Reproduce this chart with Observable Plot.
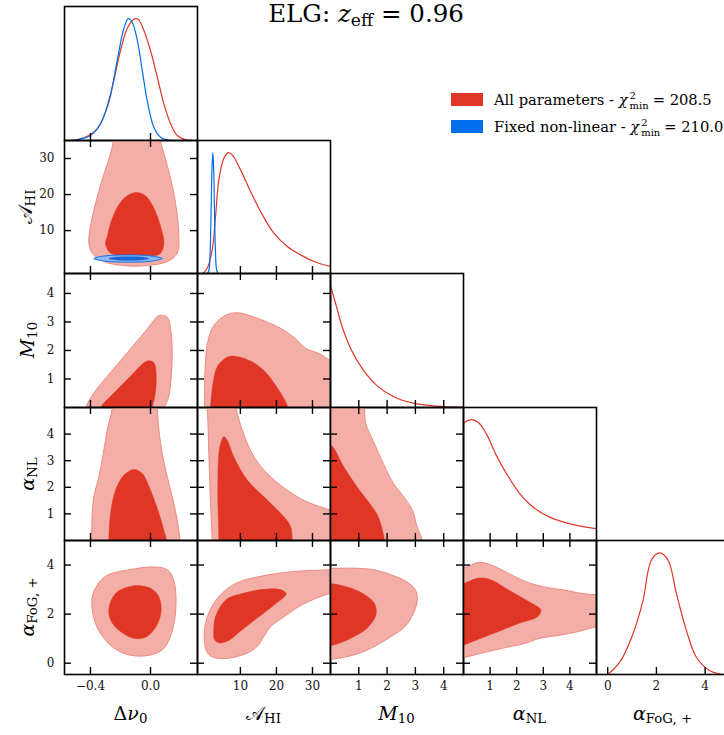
<!DOCTYPE html>
<html><head><meta charset="utf-8">
<script src="https://cdn.jsdelivr.net/npm/d3@7"></script>
<script src="https://cdn.jsdelivr.net/npm/@observablehq/plot@0.6"></script>
<style>
body{margin:0;background:#fff}
#fig{position:relative;width:724px;height:735px;overflow:hidden;font-family:"DejaVu Serif",serif;color:#000;background:#fff}
#fig svg text{font-family:"DejaVu Serif",serif !important}
.lbl{position:absolute;white-space:nowrap;font-size:19px;line-height:1}
sub{font-size:0.7em;vertical-align:-0.25em;line-height:0}
.ttl{position:absolute;white-space:nowrap;font-size:24.5px;line-height:1.17}
.leg{position:absolute;white-space:nowrap;font-size:14.7px;line-height:1}
.sw{position:absolute;width:32px;height:13px}
.ss{display:inline-block;vertical-align:-0.42em;font-size:0.68em;line-height:1;text-align:left;margin-left:2px;margin-right:4px}
.ss span{display:block}
</style></head><body><div id="fig"></div>
<script>
// ---------- tick values ----------
const ticksDnu = [-0.4, 0.0];
const ticksAhi = [10, 20, 30];
const ticksM10 = [1, 2, 3, 4];
const ticksNL = [1, 2, 3, 4];
const ticksFoG = [0, 2, 4];

// ---------- axis domains ----------
const domDnu = [-0.573, 0.313];
const domAhi = [-1.9, 35];
const domM10 = [0, 4.7];
const domNL = [0, 5];
const domFoG = [-0.46, 5.0];
const dom1D = [0, 1.1];

// ---------- 1D marginals [x, density] ----------
const dnuAll = [[-0.573,0],[-0.533,0],[-0.444,0.022],[-0.355,0.096],[-0.288,0.273],[-0.244,0.493],[-0.2,0.739],[-0.155,0.92],[-0.111,0.995],[-0.095,1.0],[-0.078,0.99],[-0.044,0.903],[0.0,0.739],[0.045,0.52],[0.089,0.30],[0.134,0.137],[0.178,0.041],[0.234,0.006],[0.289,0],[0.313,0]];
const dnuFixed = [[-0.573,0],[-0.52,0],[-0.488,0.006],[-0.4,0.041],[-0.333,0.137],[-0.266,0.383],[-0.222,0.657],[-0.178,0.917],[-0.148,1.0],[-0.122,0.971],[-0.088,0.821],[-0.055,0.575],[-0.022,0.328],[0.022,0.109],[0.067,0.027],[0.134,0],[0.313,0]];
const ahiAll = [[-1.9,0],[-0.5,0],[0.79,0.044],[2.18,0.196],[3.1,0.471],[4.02,0.774],[5.41,0.953],[6.63,1.0],[7.74,0.981],[10.04,0.857],[12.82,0.678],[15.6,0.513],[19.29,0.333],[23.02,0.223],[26.71,0.154],[30.41,0.099],[35.04,0.058]];
const ahiFixed = [[0.9,0],[1.3,0.03],[1.6,0.17],[1.9,0.55],[2.1,0.85],[2.35,1.0],[2.6,0.85],[2.8,0.55],[3.1,0.17],[3.4,0.03],[3.8,0]];
const m10All = [[0,1.0],[0.21,0.829],[0.45,0.636],[0.74,0.471],[1.16,0.306],[1.63,0.182],[2.22,0.091],[2.92,0.036],[3.75,0.011],[4.7,0.002]];
const nlAll = [[0,0.96],[0.05,0.978],[0.30,1.0],[0.55,0.978],[0.86,0.882],[1.24,0.702],[1.62,0.551],[2.12,0.386],[2.62,0.275],[3.24,0.193],[4.0,0.138],[5.0,0.097]];
const fogAll = [[0,0],[0.495,0.101],[1.04,0.335],[1.45,0.609],[1.79,0.938],[2.13,0.998],[2.48,0.938],[2.82,0.664],[3.23,0.362],[3.64,0.142],[4.18,0.033],[4.73,0],[5.0,0]];

// ---------- 2D contours (68% inner, 95% outer) ----------
const dnuAhiOut = [[-0.248,34.8],[-0.266,31.5],[-0.322,24.1],[-0.366,17.6],[-0.400,11.2],[-0.411,6.5],[-0.388,3.7],[-0.311,1.4],[-0.155,0.2],[-0.022,0.3],[0.112,1.4],[0.178,3.7],[0.189,8.3],[0.167,17.6],[0.134,24.4],[0.089,31.5],[0.067,34.8],[0.06,40],[-0.24,40]];
const dnuAhiIn = [[-0.288,8.38],[-0.266,12.07],[-0.211,17.18],[-0.155,19.68],[-0.093,20.6],[-0.033,19.68],[0.022,16.24],[0.067,11.16],[0.089,6.52],[0.067,3.74],[0.0,2.82],[-0.111,2.63],[-0.222,3.02],[-0.278,4.21],[-0.300,6.5]];
const dnuAhiFixedOut = [[0.078,2.25],[0.011,2.95],[-0.150,3.25],[-0.311,2.95],[-0.378,2.25],[-0.311,1.55],[-0.150,1.25],[0.011,1.55]];
const dnuAhiFixedIn = [[-0.011,2.27],[-0.050,2.6],[-0.144,2.75],[-0.238,2.6],[-0.277,2.27],[-0.238,1.94],[-0.144,1.8],[-0.050,1.94]];

const dnuM10Out = [[-0.45,-0.3],[-0.433,0],[-0.378,0.505],[-0.288,1.095],[-0.155,1.92],[-0.022,2.75],[0.056,3.22],[0.112,3.16],[0.134,2.75],[0.145,1.92],[0.138,1.10],[0.122,0.39],[0.094,0],[0.09,-0.3]];
const dnuM10In = [[-0.35,-0.3],[-0.333,0],[-0.244,0.505],[-0.133,1.10],[-0.022,1.63],[0.022,1.57],[0.038,1.10],[0.029,0.39],[0.011,0],[0.01,-0.3]];
const ahiM10Out = [[0.0,-0.3],[0.04,0],[0.18,1.31],[0.88,2.26],[2.54,2.86],[6.16,3.25],[9.49,3.32],[13.66,3.18],[17.54,2.99],[21.43,2.76],[25.04,2.44],[28.1,2.08],[32.27,1.87],[35.04,1.63],[38,1.45],[40,1.4],[40,-0.3]];
const ahiM10In = [[1.6,-0.3],[1.71,0],[2.41,0.85],[3.66,1.45],[6.43,1.77],[8.38,1.80],[12.82,1.63],[16.43,1.31],[19.77,0.78],[23.24,0],[23.5,-0.3]];

const dnuNLOut = [[-0.255,5.3],[-0.255,5.0],[-0.288,4.15],[-0.315,3.27],[-0.344,2.39],[-0.378,1.64],[-0.388,1.02],[-0.393,0],[-0.393,-0.3],[0.196,-0.3],[0.196,0],[0.174,0.89],[0.145,1.64],[0.112,2.39],[0.078,3.27],[0.056,4.15],[0.045,5.0],[0.045,5.3]];
const dnuNLIn = [[-0.278,-0.3],[-0.278,0],[-0.266,1.02],[-0.233,1.89],[-0.178,2.45],[-0.111,2.67],[-0.055,2.52],[0.0,1.89],[0.056,1.02],[0.089,0.39],[0.107,0],[0.107,-0.3]];
const ahiNLOut = [[0.5,5.3],[0.79,5.0],[1.24,3.27],[1.71,1.39],[2.18,0],[2.2,-0.3],[40,-0.3],[40,0.9],[37.82,1.02],[35.04,1.14],[28.57,1.45],[23.02,1.89],[17.46,2.52],[13.74,3.15],[10.52,4.15],[8.66,5.0],[8.0,5.3]];
const ahiNLIn = [[4.0,-0.3],[4.02,0],[3.74,2.02],[4.29,3.52],[5.41,3.90],[6.35,3.77],[8.18,3.15],[11.91,2.27],[17.46,1.52],[22.07,0.89],[23.93,0.52],[24.41,0],[24.5,-0.3]];
const m10NLOut = [[-0.3,5.3],[1.18,5.3],[1.20,5.0],[1.25,4.40],[1.55,3.65],[1.87,2.89],[2.23,2.14],[2.63,1.58],[2.90,1.13],[3.06,0.52],[3.25,0],[3.27,-0.3],[-0.3,-0.3]];
const m10NLIn = [[-0.3,3.7],[0.035,3.57],[0.47,2.77],[0.94,2.01],[1.47,1.27],[1.70,0.86],[1.91,0],[1.93,-0.3],[-0.3,-0.3]];

const dnuFoGOut = [[-0.301,3.54],[-0.140,3.81],[0.020,3.92],[0.112,3.81],[0.154,3.40],[0.170,2.44],[0.146,1.35],[0.089,0.60],[-0.003,0.33],[-0.140,0.33],[-0.255,0.67],[-0.347,1.35],[-0.388,2.17],[-0.382,2.85]];
const dnuFoGIn = [[-0.278,2.17],[-0.232,2.85],[-0.118,3.15],[-0.003,3.06],[0.054,2.72],[0.071,2.17],[0.043,1.56],[-0.026,1.08],[-0.106,1.01],[-0.198,1.28],[-0.260,1.69]];
const ahiFoGOut = [[0.21,0.67],[0.02,1.35],[1.18,2.03],[4.04,2.72],[8.82,3.26],[15.52,3.54],[25.1,3.74],[35.13,3.81],[40,3.85],[40,2.9],[35.13,2.85],[26.99,2.37],[22.21,1.90],[18.38,1.49],[16.49,1.08],[14.57,0.67],[11.71,0.40],[5.96,0.19],[2.13,0.26],[0.68,0.46]];
const ahiFoGIn = [[2.60,1.21],[3.1,1.90],[5.96,2.58],[10.74,2.85],[17.43,3.02],[21.27,2.99],[22.71,2.83],[19.35,2.37],[14.57,1.83],[9.79,1.28],[6.91,0.94],[4.04,0.83],[2.8,0.98]];
const m10FoGOut = [[-0.3,3.9],[0.02,3.87],[0.88,3.87],[1.53,3.81],[2.17,3.59],[2.65,3.35],[2.99,3.01],[3.07,2.60],[2.93,2.03],[2.63,1.49],[2.12,1.07],[1.27,0.52],[0.57,0.26],[0.02,0.15],[-0.3,0.05]];
const m10FoGIn = [[-0.3,3.3],[0.02,3.25],[0.56,3.12],[1.10,2.87],[1.55,2.44],[1.61,1.99],[1.34,1.48],[0.92,1.14],[0.44,0.87],[0.02,0.71],[-0.3,0.6]];
const nlFoGOut = [[-0.3,3.75],[0.02,3.87],[0.58,4.11],[1.03,4.01],[1.68,3.67],[2.33,3.33],[2.97,3.12],[3.75,2.99],[4.53,2.83],[5.05,2.79],[5.4,2.78],[5.4,1.5],[5.05,1.49],[4.27,1.28],[3.62,1.14],[2.84,1.01],[2.33,0.81],[1.42,0.60],[0.64,0.40],[0.02,0.23],[-0.3,0.15]];
const nlFoGIn = [[-0.3,3.2],[0.02,3.26],[0.58,3.47],[1.03,3.40],[1.68,2.99],[2.45,2.51],[2.91,2.17],[2.78,1.89],[2.07,1.62],[1.29,1.28],[0.64,1.01],[0.02,0.74],[-0.3,0.6]];

// ---------- labels ----------
const colLabels = ["Δ<i>ν</i><sub>0</sub>", "<span class='cal'>𝒜</span><sub>HI</sub>", "<i>M</i><sub>10</sub>", "<i>α</i><sub>NL</sub>", "<i>α</i><sub>FoG, +</sub>"];
const legendItems = [
  {name: "All parameters", chi: "208.5"},
  {name: "Fixed non-linear", chi: "210.0"}
];

// ---------- style ----------
const RED = "#e03626", RED_L = "#f2aea7", RED_E = "#ea8479";
const BLUE = "#006fed", BLUE_L = "#8db6f0", BLUE_D = "#1b63d8";
const SERIF = "DejaVu Serif";

const colX = [64, 197, 330, 463, 596, 729];
const rowY = [6, 140, 273, 407, 540, 674];
const fig = document.getElementById("fig");
const XY = {x: d => d[0], y: d => d[1]};
const fmtDnu = d => (d < 0 ? "\u2212" : "") + Math.abs(d).toFixed(1);
const fmtInt = d => String(d);

function contour(outer, inner, cO = RED_L, cE = RED_E, cI = RED) {
  return [
    Plot.line(outer, {...XY, curve: "catmull-rom-closed", fill: cO, stroke: cE, strokeWidth: 0.9, clip: true}),
    Plot.line(inner, {...XY, curve: "catmull-rom-closed", fill: cI, stroke: cI, strokeWidth: 0.5, clip: true})
  ];
}
function curve1D(data, color) {
  return Plot.line(data, {...XY, curve: "catmull-rom", stroke: color, strokeWidth: 1.2, clip: true});
}

function panel(c, r, o) {
  const W = colX[c + 1] - colX[c], H = rowY[r + 1] - rowY[r];
  const ml = o.yLab ? 44 : 0, mb = o.xLab ? 26 : 0;
  const marks = [...o.marks];
  const tk = {stroke: "#000", strokeWidth: 1.4};
  marks.push(Plot.ruleX(o.xt, {...tk, insetTop: H - 7}));
  if (!o.oneD) {
    marks.push(Plot.ruleX(o.xt, {...tk, insetBottom: H - 7}));
    marks.push(Plot.ruleY(o.yt, {...tk, insetRight: W - 7}));
    marks.push(Plot.ruleY(o.yt, {...tk, insetLeft: W - 7}));
  }
  marks.push(Plot.frame({stroke: "#000", strokeWidth: 1.6}));
  const txt = {fontFamily: SERIF, fontSize: 12, fill: "#111"};
  if (o.xLab) marks.push(Plot.axisX({ticks: o.xt, anchor: "bottom", tickSize: 0, tickPadding: 7, tickFormat: o.xf || fmtInt, label: null, ...txt}));
  if (o.yLab) marks.push(Plot.axisY({ticks: o.yt, anchor: "left", tickSize: 0, tickPadding: 10, tickFormat: o.yf || fmtInt, label: null, ...txt}));
  const p = Plot.plot({
    width: W + ml, height: H + mb,
    marginLeft: ml, marginRight: 0, marginTop: 0, marginBottom: mb,
    x: {domain: o.xd, axis: null},
    y: {domain: o.yd, axis: null},
    style: {background: "transparent", overflow: "visible", fontFamily: SERIF, fontSize: "12px", color: "#000"},
    marks
  });
  p.style.position = "absolute";
  p.style.left = (colX[c] - ml) + "px";
  p.style.top = rowY[r] + "px";
  p.style.maxWidth = "none";
  fig.appendChild(p);
}

// Row 0
panel(0, 0, {oneD: true, xd: domDnu, yd: dom1D, xt: ticksDnu, marks: [curve1D(dnuAll, RED), curve1D(dnuFixed, BLUE)]});
// Row 1
panel(0, 1, {xd: domDnu, yd: domAhi, xt: ticksDnu, yt: ticksAhi, yLab: true,
  marks: [...contour(dnuAhiOut, dnuAhiIn), ...contour(dnuAhiFixedOut, dnuAhiFixedIn, BLUE_L, BLUE, BLUE_D)]});
panel(1, 1, {oneD: true, xd: domAhi, yd: dom1D, xt: ticksAhi, marks: [curve1D(ahiAll, RED), curve1D(ahiFixed, BLUE)]});
// Row 2
panel(0, 2, {xd: domDnu, yd: domM10, xt: ticksDnu, yt: ticksM10, yLab: true, marks: contour(dnuM10Out, dnuM10In)});
panel(1, 2, {xd: domAhi, yd: domM10, xt: ticksAhi, yt: ticksM10, marks: contour(ahiM10Out, ahiM10In)});
panel(2, 2, {oneD: true, xd: domM10, yd: dom1D, xt: ticksM10, marks: [curve1D(m10All, RED)]});
// Row 3
panel(0, 3, {xd: domDnu, yd: domNL, xt: ticksDnu, yt: ticksNL, yLab: true, marks: contour(dnuNLOut, dnuNLIn)});
panel(1, 3, {xd: domAhi, yd: domNL, xt: ticksAhi, yt: ticksNL, marks: contour(ahiNLOut, ahiNLIn)});
panel(2, 3, {xd: domM10, yd: domNL, xt: ticksM10, yt: ticksNL, marks: contour(m10NLOut, m10NLIn)});
panel(3, 3, {oneD: true, xd: domNL, yd: dom1D, xt: ticksNL, marks: [curve1D(nlAll, RED)]});
// Row 4
panel(0, 4, {xd: domDnu, yd: domFoG, xt: ticksDnu, yt: ticksFoG, yLab: true, xLab: true, xf: fmtDnu, marks: contour(dnuFoGOut, dnuFoGIn)});
panel(1, 4, {xd: domAhi, yd: domFoG, xt: ticksAhi, yt: ticksFoG, xLab: true, marks: contour(ahiFoGOut, ahiFoGIn)});
panel(2, 4, {xd: domM10, yd: domFoG, xt: ticksM10, yt: ticksFoG, xLab: true, marks: contour(m10FoGOut, m10FoGIn)});
panel(3, 4, {xd: domNL, yd: domFoG, xt: ticksNL, yt: ticksFoG, xLab: true, marks: contour(nlFoGOut, nlFoGIn)});
panel(4, 4, {oneD: true, xd: domFoG, yd: dom1D, xt: ticksFoG, xLab: true, marks: [curve1D(fogAll, RED)]});

// ---------- axis labels ----------
colLabels.forEach((html, i) => {
  const d = document.createElement("div");
  d.className = "lbl";
  d.innerHTML = html;
  d.style.left = ((colX[i] + colX[i + 1]) / 2) + "px";
  d.style.top = "704px";
  d.style.transform = "translateX(-50%)";
  fig.appendChild(d);
});
colLabels.slice(1).forEach((html, i) => {
  const r = i + 1;
  const d = document.createElement("div");
  d.className = "lbl";
  d.innerHTML = html;
  d.style.left = r === 1 ? "25px" : "27px";
  d.style.top = ((rowY[r] + rowY[r + 1]) / 2) + "px";
  d.style.transform = "translate(-50%,-50%) rotate(-90deg)";
  fig.appendChild(d);
});

// ---------- title ----------
const t = document.createElement("div");
t.className = "ttl";
t.innerHTML = "ELG: <i>z</i><sub>eff</sub> = 0.96";
t.style.left = "366px"; t.style.top = "0px"; t.style.transform = "translateX(-50%)";
fig.appendChild(t);

// ---------- legend ----------
const legColors = [RED, BLUE];
legendItems.forEach((it, i) => {
  const y = 93 + i * 27;
  const s = document.createElement("div");
  s.className = "sw"; s.style.left = "451px"; s.style.top = y + "px"; s.style.background = legColors[i];
  fig.appendChild(s);
  const l = document.createElement("div");
  l.className = "leg"; l.style.left = "494px"; l.style.top = (y - 2) + "px";
  l.innerHTML = `${it.name} - <i>χ</i><span class="ss"><span>2</span><span>min</span></span>= ${it.chi}`;
  fig.appendChild(l);
});
</script></body></html>
